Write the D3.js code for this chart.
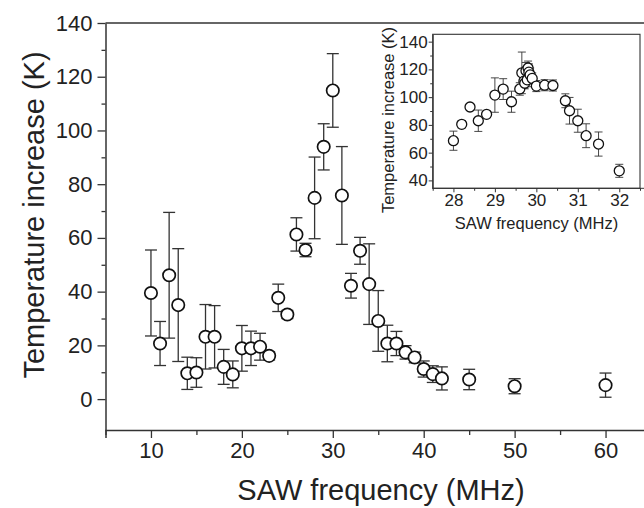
<!DOCTYPE html>
<html>
<head>
<meta charset="utf-8">
<script src="https://cdn.jsdelivr.net/npm/d3@7"></script>
<style>
body { margin: 0; background: #fff; }
svg { font-family: "Liberation Sans", Arial, sans-serif; display: block; }
.axis path, .axis line { stroke: #333; }
.axis text { fill: #222; }
</style>
</head>
<body>
<div id="chart"></div>
<script>
// main plot data (MHz, K, +/- K)
var freq = [10,11,12,13,14,15,16,17,18,19,20,21,22,23,24,25,26,27,28,29,30,31,32,33,34,35,36,37,38,39,40,41,42,45,50,60];
var temp = [39.5,20.7,46.1,35.0,9.6,9.9,23.2,23.2,12.0,9.2,18.9,18.9,19.5,16.1,37.7,31.5,61.3,55.5,74.9,93.9,114.9,75.8,42.2,55.2,42.8,29.1,20.7,20.7,17.4,15.5,11.2,9.3,7.7,7.3,4.8,5.2];
var err  = [16,8.2,23.4,21,6,5.5,12,11.6,6.5,5,8.5,6.4,5,1.5,5.1,1.5,6.2,2.5,15.2,8.6,13.7,18.2,4.6,5,15,11.3,6.8,4.5,2.5,2,3,3.1,4.3,3.8,2.8,4.5];

// inset data
var insetFreq = [28.0,28.2,28.4,28.6,28.8,29.0,29.2,29.4,29.6,29.65,29.7,29.72,29.75,29.78,29.8,29.82,29.85,29.9,30.0,30.2,30.4,30.7,30.8,31.0,31.2,31.5,32.0];
var insetTemp = [68.6,80.4,92.9,83.0,87.6,101.5,105.8,96.7,105.9,117.5,111.5,110,119,112.5,121,118,116,113.5,108.0,108.6,108.4,97.4,90.2,83.0,72.2,66.2,46.9];
var insetErr  = [6.9,2.5,2,7.7,2,12.4,7.5,7.6,4.5,15,5,4,6,5,5,6,5,4,4,4,4,5,9.6,8.3,8.6,8.7,4.7];

// tick values
var xMajor = [10,20,30,40,50,60];
var xMinor = [5,15,25,35,45,55,65];
var yMajor = [0,20,40,60,80,100,120,140];
var yMinor = [10,30,50,70,90,110,130];
var ixMajor = [28,29,30,31,32];
var ixMinor = [27.5,28.5,29.5,30.5,31.5,32.5];
var iyMajor = [40,60,80,100,120,140];
var iyMinor = [50,70,90,110,130];

var W = 644, H = 508;
var svg = d3.select('#chart').append('svg')
	.attr('width', W)
	.attr('height', H);

function zip(a, b, c) {
	return a.map(function(d, i){ return {x: d, y: b[i], e: c[i]}; });
}

function drawPoints(g, data, x, y, r, cap, sw) {
	var bars = g.selectAll('.bar')
		.data(data)
		.enter()
		.append('g')
		.attr('class', 'bar')
		.attr('stroke', '#333')
		.attr('stroke-width', sw);
	bars.append('line')
		.attr('x1', function(d){ return x(d.x); })
		.attr('x2', function(d){ return x(d.x); })
		.attr('y1', function(d){ return y(d.y - d.e); })
		.attr('y2', function(d){ return y(d.y + d.e); });
	bars.append('line')
		.attr('x1', function(d){ return x(d.x) - cap; })
		.attr('x2', function(d){ return x(d.x) + cap; })
		.attr('y1', function(d){ return y(d.y + d.e); })
		.attr('y2', function(d){ return y(d.y + d.e); });
	bars.append('line')
		.attr('x1', function(d){ return x(d.x) - cap; })
		.attr('x2', function(d){ return x(d.x) + cap; })
		.attr('y1', function(d){ return y(d.y - d.e); })
		.attr('y2', function(d){ return y(d.y - d.e); });
	g.selectAll('.pt')
		.data(data)
		.enter()
		.append('circle')
		.attr('class', 'pt')
		.attr('cx', function(d){ return x(d.x); })
		.attr('cy', function(d){ return y(d.y); })
		.attr('r', r)
		.attr('fill', '#fff')
		.attr('stroke', '#111')
		.attr('stroke-width', sw + 0.4);
}

// ---- main plot ----
var x = d3.scaleLinear().domain([5, 65]).range([105.5, 651]);
var y = d3.scaleLinear().domain([-11.5, 140]).range([430, 23]);

// frame top line
svg.append('line')
	.attr('x1', x(5)).attr('x2', W)
	.attr('y1', y(140)).attr('y2', y(140))
	.attr('stroke', '#333').attr('stroke-width', 1.5);

var gx = svg.append('g').attr('class', 'axis')
	.attr('transform', 'translate(0,' + y(-11.5) + ')')
	.call(d3.axisBottom(x).tickValues(xMajor).tickSize(8).tickPadding(4).tickFormat(d3.format('d')));
gx.selectAll('text').attr('font-size', 22);
svg.append('g').attr('class', 'axis')
	.attr('transform', 'translate(0,' + y(-11.5) + ')')
	.call(d3.axisBottom(x).tickValues(xMinor).tickSize(5).tickFormat(''))
	.select('.domain').remove();
gx.select('.domain').attr('stroke-width', 1.5);

var gy = svg.append('g').attr('class', 'axis')
	.attr('transform', 'translate(' + x(5) + ',0)')
	.call(d3.axisLeft(y).tickValues(yMajor).tickSize(8).tickPadding(5).tickSizeOuter(0));
gy.selectAll('text').attr('font-size', 22);
gy.select('.domain').attr('stroke-width', 1.5);
svg.append('g').attr('class', 'axis')
	.attr('transform', 'translate(' + x(5) + ',0)')
	.call(d3.axisLeft(y).tickValues(yMinor).tickSize(4).tickFormat(''))
	.select('.domain').remove();
svg.selectAll('.axis .tick line').attr('stroke-width', 1.3);

svg.append('text')
	.attr('x', 381).attr('y', 500)
	.attr('text-anchor', 'middle')
	.attr('font-size', 29)
	.attr('fill', '#222')
	.text('SAW frequency (MHz)');
svg.append('text')
	.attr('transform', 'translate(44,215) rotate(-90)')
	.attr('text-anchor', 'middle')
	.attr('font-size', 29)
	.attr('fill', '#222')
	.text('Temperature increase (K)');

drawPoints(svg.append('g'), zip(freq, temp, err), x, y, 6.2, 6, 1.3);

// ---- inset ----
var ix = d3.scaleLinear().domain([27.5, 32.5]).range([432.7, 640]);
var iy = d3.scaleLinear().domain([34.3, 145.3]).range([188.3, 34.3]);
var inset = svg.append('g');

inset.append('rect')
	.attr('x', ix(27.5)).attr('y', iy(145.3))
	.attr('width', ix(32.5) - ix(27.5))
	.attr('height', iy(34.3) - iy(145.3))
	.attr('fill', '#fff')
	.attr('stroke', '#333')
	.attr('stroke-width', 1.1);

var igx = inset.append('g').attr('class', 'axis')
	.attr('transform', 'translate(0,' + iy(34.3) + ')')
	.call(d3.axisBottom(ix).tickValues(ixMajor).tickSize(4).tickPadding(2).tickSizeOuter(0).tickFormat(d3.format('d')));
igx.selectAll('text').attr('font-size', 17);
igx.select('.domain').attr('d', 'M' + ix(27.5) + ',0H' + W);
inset.append('g').attr('class', 'axis')
	.attr('transform', 'translate(0,' + iy(34.3) + ')')
	.call(d3.axisBottom(ix).tickValues(ixMinor).tickSize(2.5).tickFormat(''))
	.select('.domain').remove();

var igy = inset.append('g').attr('class', 'axis')
	.attr('transform', 'translate(' + ix(27.5) + ',0)')
	.call(d3.axisLeft(iy).tickValues(iyMajor).tickSize(4).tickPadding(1).tickSizeOuter(0).tickFormat(d3.format('d')));
igy.selectAll('text').attr('font-size', 17);
inset.append('g').attr('class', 'axis')
	.attr('transform', 'translate(' + ix(27.5) + ',0)')
	.call(d3.axisLeft(iy).tickValues(iyMinor).tickSize(2.5).tickFormat(''))
	.select('.domain').remove();

inset.append('text')
	.attr('x', 536.5).attr('y', 229)
	.attr('text-anchor', 'middle')
	.attr('font-size', 16.5)
	.attr('fill', '#222')
	.text('SAW frequency (MHz)');
inset.append('text')
	.attr('transform', 'translate(394,120) rotate(-90)')
	.attr('text-anchor', 'middle')
	.attr('font-size', 16.5)
	.attr('fill', '#222')
	.text('Temperature increase (K)');

drawPoints(inset.append('g'), zip(insetFreq, insetTemp, insetErr), ix, iy, 5, 4, 0.9);
</script>
</body>
</html>
